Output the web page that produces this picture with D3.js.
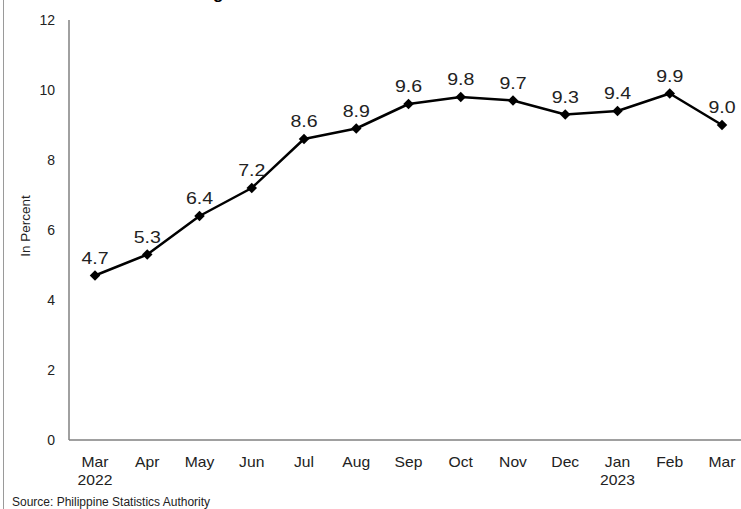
<!DOCTYPE html>
<html>
<head>
<meta charset="utf-8">
<script src="https://cdn.jsdelivr.net/npm/d3@7"></script>
<style>
    body { margin: 0; background: #fff; }
    svg { display: block; font-family: "Liberation Sans", Arial, sans-serif; }
</style>
</head>
<body>
<div id="chart"></div>
<script>
const months = ['Mar', 'Apr', 'May', 'Jun', 'Jul', 'Aug', 'Sep', 'Oct', 'Nov', 'Dec', 'Jan', 'Feb', 'Mar2'];
const monthLabels = ['Mar', 'Apr', 'May', 'Jun', 'Jul', 'Aug', 'Sep', 'Oct', 'Nov', 'Dec', 'Jan', 'Feb', 'Mar'];
const yearLabels = ['2022', '', '', '', '', '', '', '', '', '', '2023', '', ''];
const values = [4.7, 5.3, 6.4, 7.2, 8.6, 8.9, 9.6, 9.8, 9.7, 9.3, 9.4, 9.9, 9.0];
const yTicks = [0, 2, 4, 6, 8, 10, 12];

const width = 741, height = 509;

const svg = d3.select('#chart').append('svg')
    .attr('width', width).attr('height', height);

// frame line on the left
svg.append('line')
    .attr('x1', 3.5).attr('x2', 3.5).attr('y1', 0).attr('y2', height)
    .attr('stroke', '#9a9a9a').attr('stroke-width', 1);

// title, mostly cut off by the top of the picture
svg.append('text')
    .attr('x', 395).attr('y', -1)
    .attr('text-anchor', 'middle')
    .attr('font-size', 17).attr('font-weight', 'bold')
    .text('Figure 1. Inflation Rate: March 2022 - March 2023');

const x = d3.scalePoint().domain(months).range([95, 722]);
const y = d3.scaleLinear().domain([0, 12]).range([440, 20]);

// axes
svg.append('line')
    .attr('x1', 69).attr('x2', 69).attr('y1', y(12)).attr('y2', y(0))
    .attr('stroke', '#808080').attr('stroke-width', 1.5);
svg.append('line')
    .attr('x1', 69).attr('x2', width).attr('y1', y(0)).attr('y2', y(0))
    .attr('stroke', '#808080').attr('stroke-width', 1.5);

svg.append('g').selectAll('text')
    .data(yTicks)
    .join('text')
    .attr('x', 55).attr('y', d => y(d) + 5)
    .attr('text-anchor', 'end')
    .attr('font-size', 14).attr('fill', '#222')
    .text(d => d);

svg.append('text')
    .attr('transform', `translate(30,${y(6) - 4}) rotate(-90)`)
    .attr('text-anchor', 'middle')
    .attr('font-size', 13.5).attr('fill', '#222')
    .text('In Percent');

const xl = svg.append('g').attr('font-size', 14).attr('fill', '#222').attr('text-anchor', 'middle');
xl.selectAll('text.m')
    .data(months)
    .join('text')
    .attr('class', 'm')
    .attr('transform', d => `translate(${x(d)},467) scale(1.12,1)`)
    .text((d, i) => monthLabels[i]);
xl.selectAll('text.yr')
    .data(months)
    .join('text')
    .attr('class', 'yr')
    .attr('transform', d => `translate(${x(d)},485) scale(1.12,1)`)
    .text((d, i) => yearLabels[i]);

// line + markers
const line = d3.line()
    .x((d, i) => x(months[i]))
    .y(d => y(d));

svg.append('path')
    .attr('d', line(values))
    .attr('fill', 'none').attr('stroke', '#000').attr('stroke-width', 2.5)
    .attr('stroke-linejoin', 'round');

svg.append('g').selectAll('path')
    .data(values)
    .join('path')
    .attr('transform', (d, i) => `translate(${x(months[i])},${y(d)})`)
    .attr('d', d3.symbol(d3.symbolDiamond2, 70))
    .attr('fill', '#000');

svg.append('g').selectAll('text')
    .data(values)
    .join('text')
    .attr('transform', (d, i) => `translate(${x(months[i])},${y(d) - 12}) scale(1.15,1)`)
    .attr('text-anchor', 'middle')
    .attr('font-size', 17).attr('fill', '#222')
    .text(d => d.toFixed(1));

svg.append('text')
    .attr('x', 12).attr('y', 506)
    .attr('font-size', 12).attr('fill', '#222')
    .text('Source: Philippine Statistics Authority');
</script>
</body>
</html>
